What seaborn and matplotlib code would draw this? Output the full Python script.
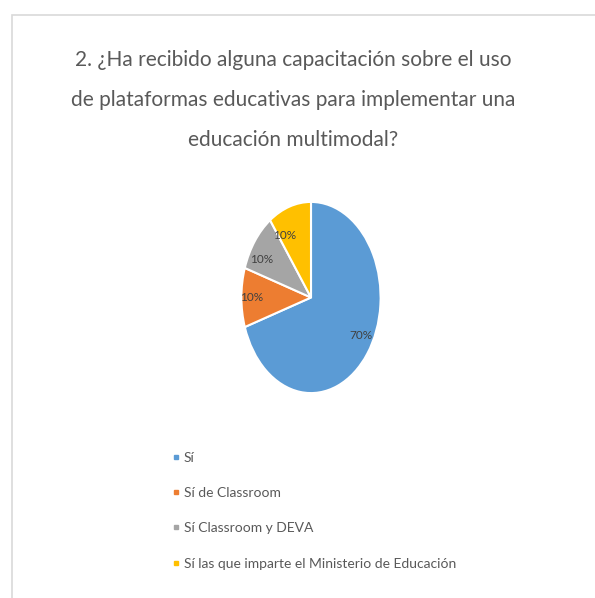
import matplotlib
matplotlib.use("Agg")
import matplotlib.pyplot as plt
import seaborn as sns
from matplotlib.patches import Rectangle
from matplotlib.lines import Line2D

# -----------------------------
# Data
# -----------------------------
labels = [
    "Sí",
    "Sí de Classroom",
    "Sí Classroom y DEVA",
    "Sí las que imparte el Ministerio de Educación",
]
values = [70, 10, 10, 10]
colors = ["#5B9BD5", "#ED7D31", "#A5A5A5", "#FFC000"]
title = ("2. ¿Ha recibido alguna capacitación sobre el uso\n"
         "de plataformas educativas para implementar una\n"
         "educación multimodal?")

sns.set_theme(style="white")
plt.rcParams["font.family"] = ["Lato", "DejaVu Sans"]

fig = plt.figure(figsize=(5.95, 5.98), dpi=100)

# light border of the chart area
fig.patches.append(Rectangle((12 / 595, -0.1), 1.2, (1 - 15 / 598) + 0.1,
                             transform=fig.transFigure, fill=False,
                             edgecolor="#D9D9D9", linewidth=1.2))

fig.text(293 / 595, 1 - 100 / 598, title, ha="center", va="center",
         fontsize=15, color="#595959", linespacing=2.25)

# -----------------------------
# Pie (stretched into an ellipse, like the original)
# -----------------------------
ax = fig.add_axes([240 / 595, 1 - 395 / 598, 142 / 595, 195 / 598])
wedges, texts = ax.pie(
    values,
    colors=colors,
    startangle=90,
    counterclock=False,
    labels=[f"{v}%" for v in values],
    labeldistance=0.68,
    wedgeprops=dict(edgecolor="white", linewidth=1.5),
    textprops=dict(fontsize=8.5, color="#404040"),
)
ax.set_aspect("auto")
ax.set_xlim(-1.02, 1.02)
ax.set_ylim(-1.02, 1.02)

# -----------------------------
# Legend
# -----------------------------
handles = [Line2D([], [], marker="s", linestyle="", markersize=3.5,
                  markerfacecolor=c, markeredgecolor=c) for c in colors]
fig.legend(handles, labels, loc="upper left",
           bbox_to_anchor=(160 / 595, 1 - 439 / 598),
           frameon=False, fontsize=10, labelcolor="#595959",
           handlelength=0.5, handletextpad=0.3, labelspacing=1.68)

fig.savefig("out.png", dpi=100)
